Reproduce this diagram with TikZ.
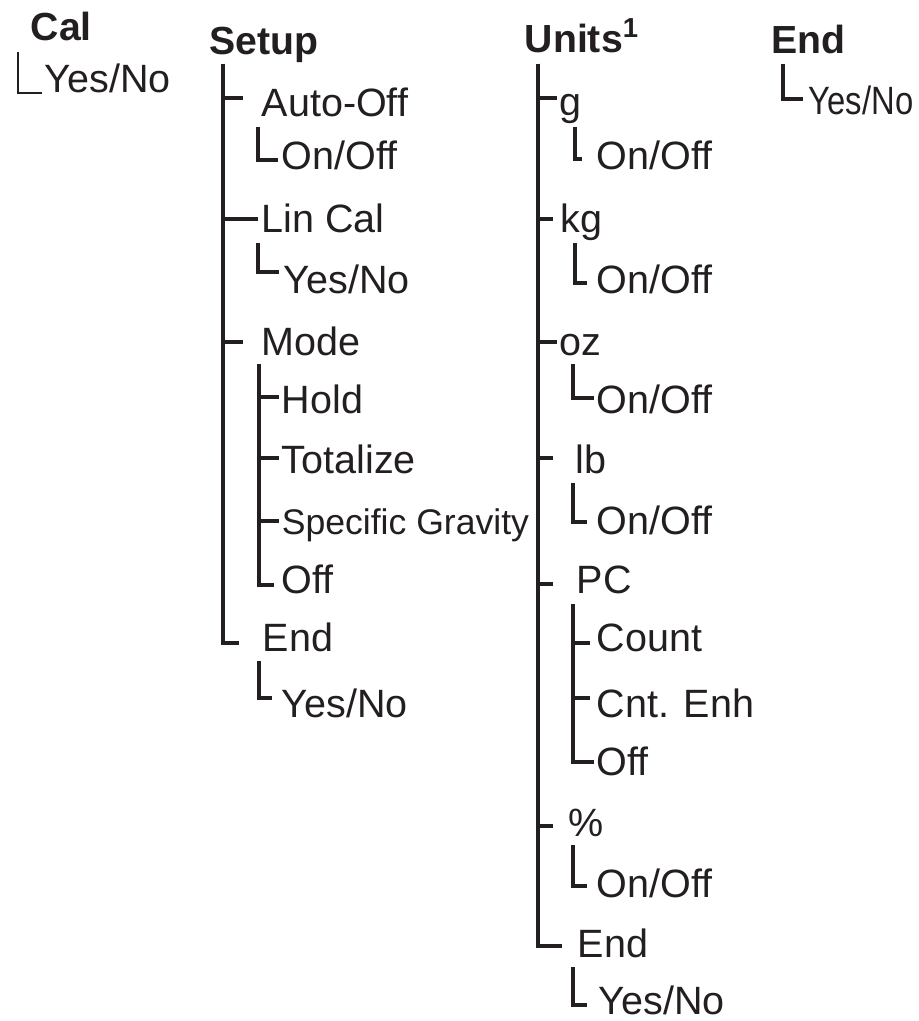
\documentclass[tikz,border=0pt]{standalone}
\usepackage{fontspec}
\setmainfont{Liberation Sans}
\usetikzlibrary{positioning}
\definecolor{ink}{HTML}{231F20}
\tikzset{
  every picture/.style={x=0.5pt, y=-0.5pt, line width=1.8pt, color=ink},
  item/.style={anchor=base west, inner sep=0pt, font=\fontsize{19.75}{24}\selectfont},
  small/.style={item, font=\fontsize{17.8}{22}\selectfont},
  head/.style={item, font=\fontsize{19.6}{24}\selectfont\bfseries},
  branch/.style={draw=ink, line width=1.8pt, line join=miter},
  thin/.style={branch, line width=1.4pt},
}

\begin{document}
\begin{tikzpicture}
  \useasboundingbox (0,0) rectangle (918,1021);
  % headings
  \node[head] (cal) at (29,41) {Cal};
  \node[head] (setup) at (208,55) {Setup};
  \node[head] (units) at (523,53) {Units\textsuperscript{1}};
  \node[head] (end) at (770,54) {End};
  % Cal
  \coordinate (calR) at (18,52);
  \coordinate (calYesT) at (42,93);
  \node[item] (calYes) at (43,93) {Yes/No};
  \draw[thin] (calR) |- (calYesT);
  % Setup
  \coordinate (setupR) at (223,64);
  \node[item] (autooff) at (260,117) {Auto-Off};
  \node[item] (aoOn) at (280,170) {On/Off};
  \node[item] (lincal) at (260,233) {Lin Cal};
  \node[item] (lcYes) at (282,293) {Yes/No};
  \node[item] (mode) at (260,356) {Mode};
  \node[item] (hold) at (280,413) {Hold};
  \node[item] (totalize) at (280,473) {Totalize};
  \node[small] (sg) at (280,534) {Specific Gravity};
  \node[item] (mOff) at (280,593) {Off};
  \node[item] (sEnd) at (261,651) {End};
  \node[item] (seYes) at (280,717) {Yes/No};
  \coordinate (autooffT) at (243,98);
  \coordinate (lincalT) at (258,219);
  \coordinate (modeT) at (243,342);
  \coordinate (sEndT) at (239,643);
  \coordinate (aoR) at (258,127);
  \coordinate (aoOnT) at (278,160);
  \coordinate (lcR) at (258,243);
  \coordinate (lcYesT) at (279,272);
  \coordinate (modeR) at (259,364);
  \coordinate (holdT) at (279,397);
  \coordinate (totalizeT) at (279,458);
  \coordinate (sgT) at (279,521);
  \coordinate (mOffT) at (274,585);
  \coordinate (seR) at (259,661);
  \coordinate (seYesT) at (272,698);
  \foreach \t in {autooffT, lincalT, modeT, sEndT}
    \draw[branch] (setupR) |- (\t);
  \draw[branch] (aoR) |- (aoOnT);
  \draw[branch] (lcR) |- (lcYesT);
  \foreach \t in {holdT, totalizeT, sgT, mOffT}
    \draw[branch] (modeR) |- (\t);
  \draw[branch] (seR) |- (seYesT);
  % Units
  \coordinate (unitsR) at (538,64);
  \node[item] (g) at (558,116) {g};
  \node[item] (gOn) at (595,170) {On/Off};
  \node[item] (kg) at (559,233) {kg};
  \node[item] (kgOn) at (595,293) {On/Off};
  \node[item] (oz) at (558,355) {oz};
  \node[item] (ozOn) at (595,413) {On/Off};
  \node[item] (lb) at (574,473) {lb};
  \node[item] (lbOn) at (595,534) {On/Off};
  \node[item] (pc) at (575,593) {PC};
  \node[item] (count) at (595,651) {Count};
  \node[item] (cnt) at (595,717) {Cnt. Enh};
  \node[item] (pOff) at (595,775) {Off};
  \node[item] (pct) at (567,836) {\%};
  \node[item] (pctOn) at (595,897) {On/Off};
  \node[item] (uEnd) at (576,957) {End};
  \node[item] (ueYes) at (597,1014) {Yes/No};
  \coordinate (gT) at (557,98);
  \coordinate (kgT) at (553,219);
  \coordinate (ozT) at (557,342);
  \coordinate (lbT) at (553,458);
  \coordinate (pcT) at (553,584);
  \coordinate (pctT) at (553,826);
  \coordinate (uEndT) at (562,946);
  \coordinate (gR) at (575,127);
  \coordinate (gOnT) at (582,159);
  \coordinate (kgR) at (575,243);
  \coordinate (kgOnT) at (587,283);
  \coordinate (ozR) at (573,364);
  \coordinate (ozOnT) at (594,398);
  \coordinate (lbR) at (573,483);
  \coordinate (lbOnT) at (587,522);
  \coordinate (pcR) at (573,604);
  \coordinate (countT) at (590,643);
  \coordinate (cntT) at (590,698);
  \coordinate (pOffT) at (594,762);
  \coordinate (pctR) at (573,845);
  \coordinate (pctOnT) at (587,886);
  \coordinate (ueR) at (573,967);
  \coordinate (ueYesT) at (587,1005);
  \foreach \t in {gT, kgT, ozT, lbT, pcT, pctT, uEndT}
    \draw[branch] (unitsR) |- (\t);
  \draw[branch] (gR) |- (gOnT);
  \draw[branch] (kgR) |- (kgOnT);
  \draw[branch] (ozR) |- (ozOnT);
  \draw[branch] (lbR) |- (lbOnT);
  \foreach \t in {countT, cntT, pOffT}
    \draw[branch] (pcR) |- (\t);
  \draw[branch] (pctR) |- (pctOnT);
  \draw[branch] (ueR) |- (ueYesT);
  % End
  \coordinate (endR) at (783,64);
  \coordinate (endYesT) at (803,99);
  \node[item] (endYes) at (807,115) {\scalebox{0.83}[1]{Yes/No}};
  \draw[branch] (endR) |- (endYesT);
\end{tikzpicture}
\end{document}
